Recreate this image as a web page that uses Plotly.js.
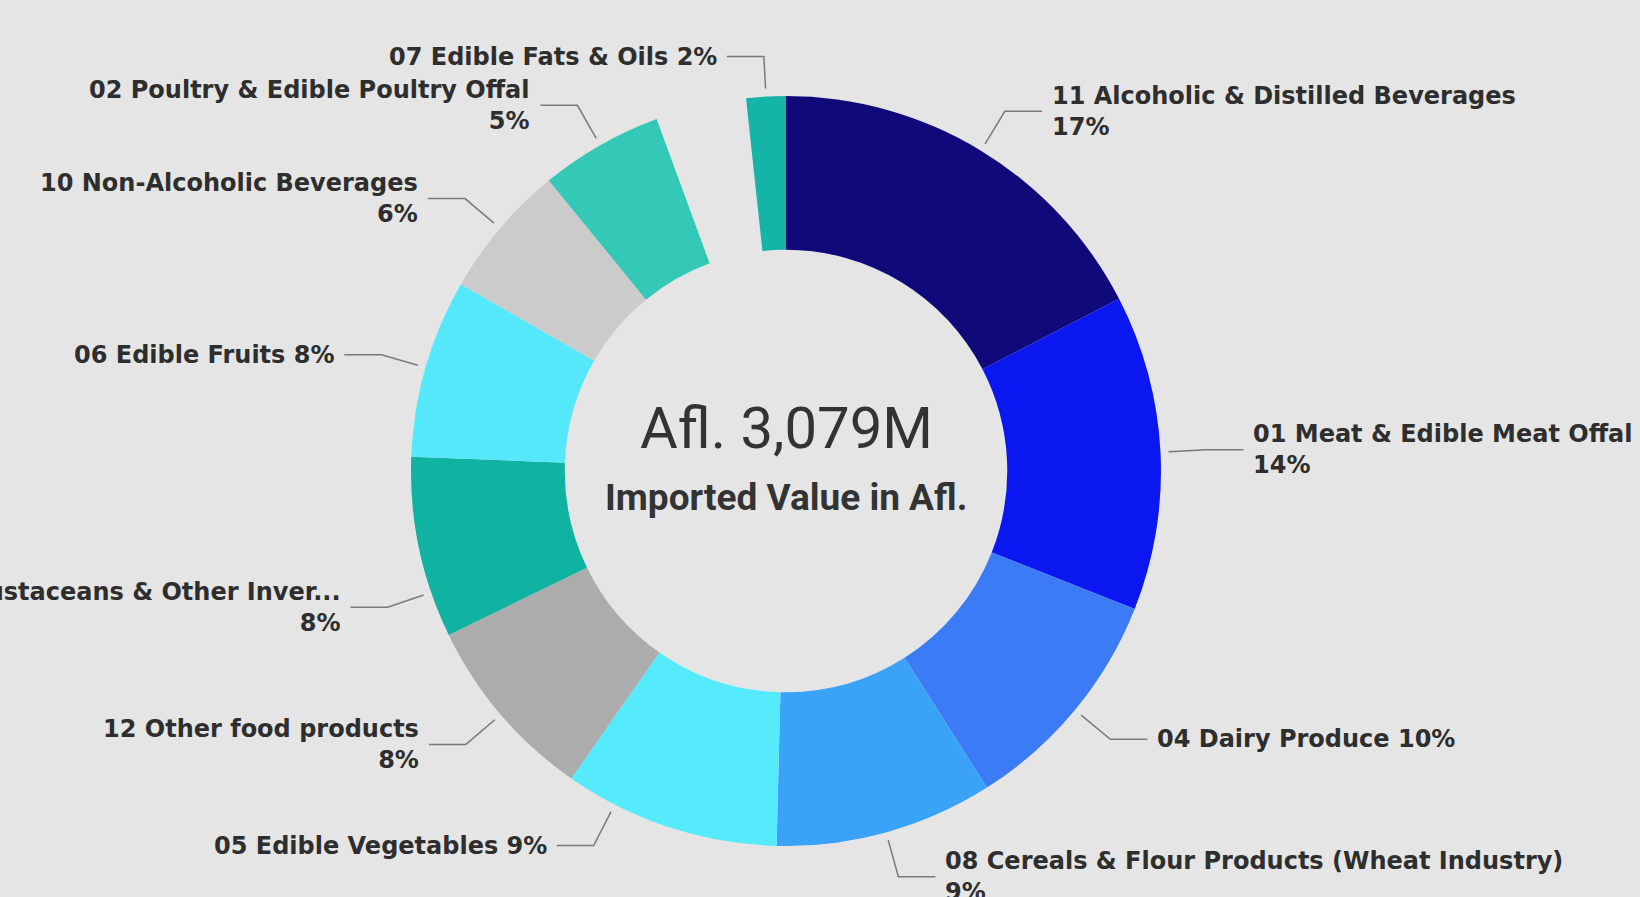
<!DOCTYPE html>
<html>
<head>
<meta charset="utf-8">
<script src="https://cdn.plot.ly/plotly-3.0.1.min.js"></script>
<style>
  html, body { margin: 0; padding: 0; background: #e5e5e5; }
  #chart { width: 1640px; height: 897px; }
</style>
</head>
<body>
<div id="chart"></div>
<script>
// ---- data (clockwise from 12 o'clock) ----
const categories = [
  "11 Alcoholic & Distilled Beverages",
  "01 Meat & Edible Meat Offal",
  "04 Dairy Produce",
  "08 Cereals & Flour Products (Wheat Industry)",
  "05 Edible Vegetables",
  "12 Other food products",
  "03 Fish, Crustaceans & Other Inver...",
  "06 Edible Fruits",
  "10 Non-Alcoholic Beverages",
  "02 Poultry & Edible Poultry Offal",
  "(not shown)",
  "07 Edible Fats & Oils"
];
const shares = [17.4, 13.6, 10.0, 9.4, 9.3, 8.1, 7.8, 7.7, 5.8, 5.3, 3.9, 1.7];
const showLabel = [true, true, true, true, true, true, true, true, true, true, false, true];
const totalMillions = 3079;
const centerSubtitle = "Imported Value in Afl.";

// ---- style ----
const colors = ["#10097a", "#0b17f0", "#3b7cf6", "#3aa3f7", "#56ebfc", "#acacac",
                "#10b2a1", "#55e8fb", "#cbcbcb", "#34c9b7", "#e5e5e5", "#14b4a8"];
const twoLine = [true, true, false, true, false, true, true, false, true, true, false, false];
const angleShift = [0, 0, 0, 0, 9, 0, -7, 0, 0, 0, 0, 0];   // leader nudges (deg)
const elbowExtra = [46, 46, 46, 46, 46, 46, 46, 46, 46, 46, 46, 40];

const W = 1640, H = 897;
const CX = 786, CY = 471, R = 375;
const BG = "#e5e5e5";
const labelFont = { family: "DejaVu Sans", size: 24, color: "#2e2e2e", weight: "bold" };

const total = shares.reduce((a, b) => a + b, 0);
const px = x => x / W;
const py = y => 1 - y / H;

const annotations = [];
const shapes = [];
let cum = 0;
shares.forEach((v, i) => {
  const mid = (cum + v / 2) / total * 360 + angleShift[i];
  cum += v;
  if (!showLabel[i]) return;
  const a = mid * Math.PI / 180;
  const sx = CX + (R + 8) * Math.sin(a), sy = CY - (R + 8) * Math.cos(a);
  const er = R + elbowExtra[i];
  const ex = CX + er * Math.sin(a), ey = CY - er * Math.cos(a);
  const right = mid < 180;
  const hx = ex + (right ? 37 : -37);
  shapes.push({
    type: "path", xref: "paper", yref: "paper",
    path: `M ${px(sx)} ${py(sy)} L ${px(ex)} ${py(ey)} L ${px(hx)} ${py(ey)}`,
    line: { color: "#7a7a7a", width: 1.5 }
  });
  const pct = Math.round(v / total * 100) + "%";
  const txt = categories[i] + (twoLine[i] ? "<br>" : " ") + pct;
  annotations.push({
    xref: "paper", yref: "paper",
    x: px(hx + (right ? 8 : -8)), y: py(ey),
    xanchor: right ? "left" : "right", yanchor: "middle",
    align: right ? "left" : "right",
    text: txt, showarrow: false, font: labelFont
  });
});

annotations.push({
  xref: "paper", yref: "paper", x: px(CX), y: py(CY - 43),
  xanchor: "center", yanchor: "middle", showarrow: false,
  text: "Afl. " + totalMillions.toLocaleString("en-US") + "M",
  font: { family: "Roboto", size: 58, color: "#333333" }
});
annotations.push({
  xref: "paper", yref: "paper", x: px(CX), y: py(CY + 27),
  xanchor: "center", yanchor: "middle", showarrow: false,
  text: centerSubtitle,
  font: { family: "Roboto", size: 37, color: "#333333", weight: "bold" }
});

const trace = {
  type: "pie",
  labels: categories,
  values: shares,
  sort: false,
  direction: "clockwise",
  rotation: 0,
  hole: 0.59,
  textinfo: "none",
  hoverinfo: "label+percent",
  marker: { colors: colors, line: { width: 0 } },
  domain: { x: [px(CX - R), px(CX + R)], y: [1 - (CY + R) / H, 1 - (CY - R) / H] },
  showlegend: false
};

Plotly.newPlot("chart", [trace], {
  width: W, height: H,
  margin: { l: 0, r: 0, t: 0, b: 0 },
  paper_bgcolor: BG, plot_bgcolor: BG,
  showlegend: false,
  annotations: annotations,
  shapes: shapes
}, { displayModeBar: false, staticPlot: true });
</script>
</body>
</html>
